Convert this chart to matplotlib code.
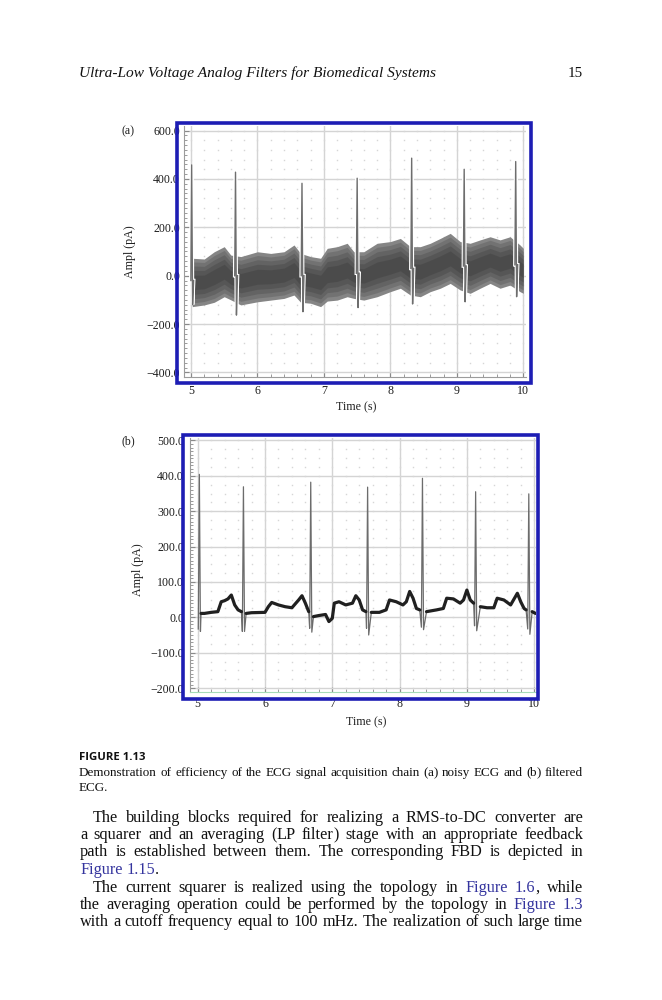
import re
import numpy as np
import matplotlib
matplotlib.use("Agg")
import matplotlib.pyplot as plt
from matplotlib.patches import Rectangle
from matplotlib.ticker import MultipleLocator, FuncFormatter

W, H = 662, 1000
SERIF = ["Liberation Serif", "DejaVu Serif"]
BOX_BLUE = "#1d1db4"
LINK_BLUE = "#34349e"
plt.rcParams["font.family"] = SERIF

# ---- panel (a): noisy ECG, band envelope ----
a_band_t = [5.02, 5.2, 5.35, 5.5, 5.6, 5.75, 6.0, 6.2, 6.4, 6.55, 6.65, 6.8,
            6.95, 7.05, 7.2, 7.35, 7.45, 7.6, 7.8, 8.0, 8.15, 8.3, 8.45, 8.6,
            8.75, 8.9, 9.05, 9.2, 9.35, 9.5, 9.65, 9.8, 9.95, 10.0]
a_band_hi = [72, 69, 99, 120, 85, 79, 99, 92, 99, 127, 92, 79,
             72, 113, 120, 134, 99, 99, 134, 141, 154, 120, 120, 134,
             154, 175, 141, 134, 148, 161, 148, 161, 127, 113]
a_band_lo = [-128, -121, -110, -87, -100, -121, -108, -101, -94, -80, -110, -114,
             -128, -105, -101, -87, -94, -101, -87, -66, -52, -80, -87, -66,
             -52, -32, -59, -73, -52, -32, -52, -39, -66, -73]
a_beat_t = [5.01, 5.67, 6.67, 7.50, 8.32, 9.11, 9.885]
a_beat_base = [-20, 0, 0, 10, 30, 40, 45]
a_beat_peak = [458, 428, 382, 403, 486, 440, 472]
a_beat_dip = [-120, -163, -149, -132, -117, -108, -87]

# ---- panel (b): filtered ECG ----
b_t = [5.05, 5.1, 5.2, 5.3, 5.35, 5.4, 5.45, 5.5, 5.55, 5.6, 5.65,
       5.72, 5.8, 6.0, 6.05, 6.1, 6.2, 6.3, 6.4, 6.5, 6.55, 6.6, 6.65,
       6.72, 6.8, 6.9, 6.95, 7.0, 7.03, 7.1, 7.2, 7.3, 7.35, 7.4, 7.45, 7.5,
       7.58, 7.7, 7.8, 7.85, 7.95, 8.05, 8.1, 8.15, 8.2, 8.25, 8.3,
       8.4, 8.55, 8.65, 8.7, 8.8, 8.9, 8.95, 9.0, 9.05, 9.1,
       9.2, 9.3, 9.4, 9.45, 9.55, 9.65, 9.75, 9.8, 9.85, 9.88,
       9.97, 10.02]
b_v = [11, 11, 14, 16, 44, 47, 52, 63, 35, 21, 16,
       11, 13, 14, 30, 42, 35, 30, 27, 49, 61, 40, 16,
       2, 5, 8, -12, -3, 40, 44, 35, 40, 61, 49, 21, 16,
       14, 14, 21, 49, 44, 35, 44, 73, 54, 25, 21,
       16, 21, 25, 54, 52, 40, 49, 77, 49, 40,
       30, 27, 27, 54, 49, 35, 68, 44, 25, 21,
       16, 11]
b_beat_t = [5.025, 5.68, 6.68, 7.525, 8.34, 9.13, 9.92]
b_beat_peak = [404, 369, 382, 368, 393, 355, 349]
b_beat_q = [-33, -40, -31, -31, -28, -24, -33]
b_beat_s = [-40, -40, -42, -50, -35, -38, -48]

x_ticks = [5, 6, 7, 8, 9, 10]
a_yticks = [-400, -200, 0, 200, 400, 600]
b_yticks = [-200, -100, 0, 100, 200, 300, 400, 500]

header = "Ultra-Low Voltage Analog Filters for Biomedical Systems"
page_no = "15"
fig_label = "FIGURE 1.13"
caption = ["Demonstration of efficiency of the ECG signal acquisition chain (a) noisy ECG and (b) filtered",
           "ECG."]
body = ["The building blocks required for realizing a RMS-to-DC converter are",
        "a squarer and an averaging (LP filter) stage with an appropriate feedback",
        "path is established between them. The corresponding FBD is depicted in",
        "{Figure} {1.15}.",
        "The current squarer is realized using the topology in {Figure} {1.6}, while",
        "the averaging operation could be performed by the topology in {Figure} {1.3}",
        "with a cutoff frequency equal to 100 mHz. The realization of such large time"]
body_indent = [13, 0, 0, 0, 13, 0, 0]
body_justify = [True, True, True, False, True, True, True]

fig = plt.figure(figsize=(W / 100, H / 100), dpi=100)
renderer = fig.canvas.get_renderer()


def fx(px):
    return px / W


def fy(py):
    return 1 - py / H


def add_axes(left, top, right, bottom):
    return fig.add_axes([fx(left), fy(bottom), (right - left) / W, (bottom - top) / H])


def num(v, _=None):
    return f"{v:.1f}".replace("-", "\u2212")


def style_scope(ax, xlim, ylim, yticks, yminor, dot_dy, bottom_color, xpad, ypad):
    ax.set_xlim(*xlim)
    ax.set_ylim(*ylim)
    ax.set_xticks(x_ticks)
    ax.set_yticks(yticks)
    ax.xaxis.set_minor_locator(MultipleLocator(0.2))
    ax.yaxis.set_minor_locator(MultipleLocator(yminor))
    ax.yaxis.set_major_formatter(FuncFormatter(num))
    ax.xaxis.set_major_formatter(FuncFormatter(lambda v, _: f"{v:.0f}"))
    for s in ("top", "right"):
        ax.spines[s].set_visible(False)
    ax.spines["left"].set_color("#9c9c9c")
    ax.spines["bottom"].set_color(bottom_color)
    ax.grid(which="major", color="#d4d4d4", lw=1.0)
    ax.set_axisbelow(True)
    ax.tick_params(which="both", direction="in", color="#8a8a8a",
                   labelsize=8.6, labelcolor="#1e1e1e")
    ax.tick_params(which="major", length=3.5, width=0.8)
    ax.tick_params(which="minor", length=2, width=0.6)
    ax.tick_params(axis="x", pad=xpad)
    ax.tick_params(axis="y", pad=ypad)
    # faint dotted scope graticule
    gx, gy = np.meshgrid(np.arange(5.0, 10.01, 0.2),
                         np.arange(yticks[0], yticks[-1] + 1, dot_dy))
    ax.plot(gx.ravel(), gy.ravel(), ls="none", marker="s", ms=1.0,
            color="#d6d6d6", mec="none", zorder=1)


# ---- (a) noisy ECG ----
ax_a = add_axes(184, 126, 526, 377)
style_scope(ax_a, (4.895, 10.04), (-419, 619), a_yticks, 20, 40,
            "#9c9c9c", 5.8, 2.9)
lo = np.array(a_band_lo, float)
hi = np.array(a_band_hi, float)
mid = (lo + hi) / 2
half = (hi - lo) / 2
# the noise cloud: soft grey edge, darkening gently towards the centre
ax_a.fill_between(a_band_t, lo, hi, color="#858585", lw=0, zorder=2)
for frac in [0.85, 0.68, 0.5, 0.3]:
    ax_a.fill_between(a_band_t, mid - frac * half, mid + frac * half,
                      color="#1a1a1a", alpha=0.17, lw=0, zorder=2)
for t, base, pk, dip in zip(a_beat_t, a_beat_base, a_beat_peak, a_beat_dip):
    ax_a.plot([t - 0.012, t, t + 0.014, t + 0.03], [base, pk, dip, base],
              color="white", lw=2.6, zorder=4, solid_joinstyle="miter")
    ax_a.plot([t - 0.012, t, t + 0.014, t + 0.03], [base, pk, dip, base],
              color="#6e6e6e", lw=1.0, zorder=5)

# ---- (b) filtered ECG ----
ax_b = add_axes(190, 438, 536, 691.7)
style_scope(ax_b, (4.886, 10.027), (-210.3, 506.9), b_yticks, 10, 25,
            "#a6dcb8", 4.5, 4.3)
bt = np.array(b_t, float)
bv = np.array(b_v, float)
spk_t, spk_v = [], []
for t, q, pk, s in zip(b_beat_t, b_beat_q, b_beat_peak, b_beat_s):
    spk_t += [t - 0.016, t, t + 0.016]
    spk_v += [q, pk, s]
all_t = np.concatenate([bt, spk_t])
all_v = np.concatenate([bv, spk_v])
order = np.argsort(all_t)
ax_b.plot(all_t[order], all_v[order], color="#6c6c6c", lw=0.9, zorder=3)
cuts = np.searchsorted(bt, b_beat_t)
for seg_t, seg_v in zip(np.split(bt, cuts), np.split(bv, cuts)):
    if len(seg_t) > 1:
        ax_b.plot(seg_t, seg_v, color="#202020", lw=2.3,
                  solid_capstyle="round", zorder=4)

# blue frames sit on top of the tick labels, as in the scan
for (l, t, r, b) in [(176.7, 123.3, 530.7, 383.3), (182.7, 435, 538.3, 699)]:
    fig.add_artist(Rectangle((fx(l), fy(b)), (r - l) / W, (b - t) / H,
                             transform=fig.transFigure, fill=False,
                             ec=BOX_BLUE, lw=2.6, zorder=10))

# panel labels
lab = dict(fontsize=8.6, color="#1e1e1e", ha="center", va="center")
fig.text(fx(128.3), fy(131), "(a)", **lab)
fig.text(fx(130), fy(251.7), "Ampl (pA)", rotation=90, **lab)
fig.text(fx(356.7), fy(407.3), "Time (s)", **lab)
fig.text(fx(128.3), fy(441), "(b)", **lab)
fig.text(fx(138.3), fy(570), "Ampl (pA)", rotation=90, **lab)
fig.text(fx(366.7), fy(722.7), "Time (s)", **lab)


# ---- page text ----
def width_px(t):
    return t.get_window_extent(renderer).width


def fit_text(x, y, s, width, ha="left", **kw):
    t = fig.text(fx(x), fy(y), s, ha=ha, va="baseline", fontsize=10, **kw)
    t.set_fontsize(10 * width / width_px(t))
    return t


def segments(token):
    # links in {} are blue; brackets go in their own piece so the
    # letters next to them keep the common baseline
    out = []
    for part in re.split(r"(\{[^}]*\})", token):
        if not part:
            continue
        col = LINK_BLUE if part.startswith("{") else "#111111"
        for piece in re.split(r"([()])", part.strip("{}")):
            if piece:
                out.append((piece, col))
    return out


def set_line(y, x0, x1, line, size, justify=True):
    words = []
    for tok in line.split(" "):
        segs = []
        for s, c in segments(tok):
            t = fig.text(0, fy(y), s, fontsize=size, color=c, va="baseline")
            segs.append((t, width_px(t)))
        words.append(segs)
    wsum = sum(w for segs in words for _, w in segs)
    probe = fig.text(0, 0, "x x", fontsize=size)
    probe2 = fig.text(0, 0, "xx", fontsize=size)
    space = width_px(probe) - width_px(probe2)
    probe.remove()
    probe2.remove()
    gap = (x1 - x0 - wsum) / (len(words) - 1) if justify and len(words) > 1 else space
    x = x0
    for segs in words:
        for t, w in segs:
            t.set_x(fx(x))
            x += w
        x += gap


fit_text(79, 77, header, 358, style="italic", color="#111111")
fig.text(fx(583), fy(77), page_no, ha="right", va="baseline",
         fontsize=10.8, color="#111111")

fit_text(79, 760.5, fig_label, 66, family=["Open Sans", "DejaVu Sans"],
         weight="bold", color="#111111")

probe = fig.text(0, 0, caption[0], fontsize=10)
cap_size = 10 * 500 / width_px(probe)
probe.remove()
set_line(776, 79, 583, caption[0], cap_size, True)
set_line(791, 79, 583, caption[1], cap_size, False)

probe = fig.text(0, 0, body[-1].replace("{", "").replace("}", ""), fontsize=10)
body_size = 10 * 498 / width_px(probe)
probe.remove()
for i, line in enumerate(body):
    set_line(821.5 + 17.5 * i, 80 + body_indent[i], 583, line, body_size,
             body_justify[i])

fig.savefig("out.png", dpi=100, facecolor="white")
